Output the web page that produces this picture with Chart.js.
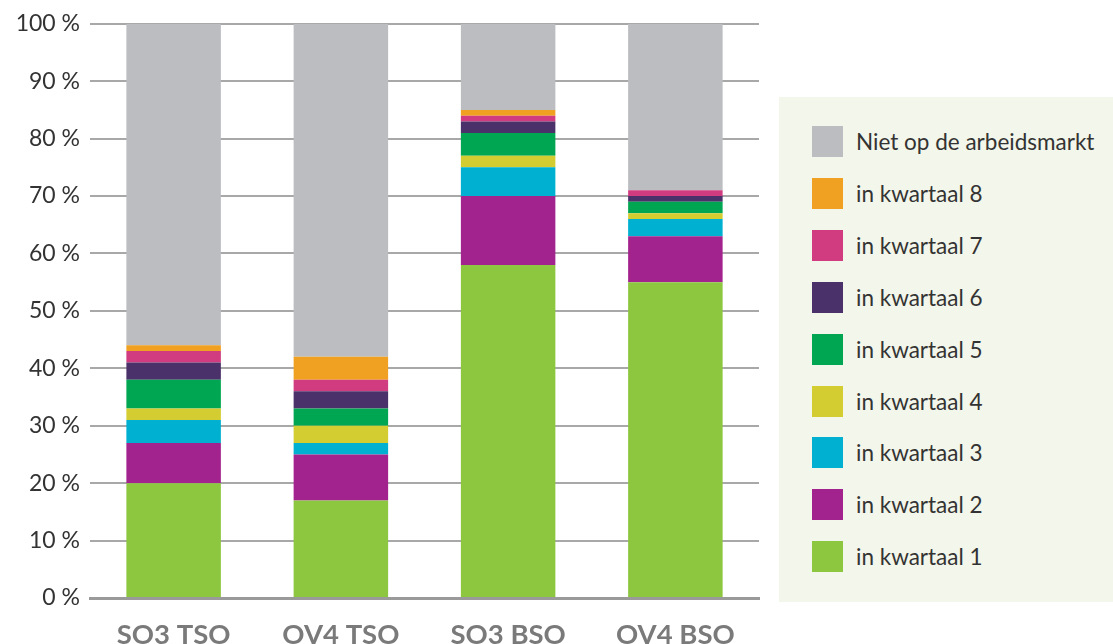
<!DOCTYPE html>
<html>
<head>
<meta charset="utf-8">
<script src="https://cdn.jsdelivr.net/npm/chart.js@4/dist/chart.umd.min.js"></script>
<style>
  html, body { margin: 0; padding: 0; background: #fff; overflow: hidden; }
  #wrap { position: relative; width: 1113px; height: 644px; }
  #legend {
    position: absolute; left: 779px; top: 97px; width: 334px; height: 505px;
    background: #f3f6ea; font-family: Lato, sans-serif; font-size: 22.5px; color: #333;
  }
  .item { position: absolute; left: 33px; height: 31px; display: flex; align-items: center; }
  .sw { width: 31px; height: 31px; margin-right: 13px; }
</style>
</head>
<body>
<div id="wrap">
  <canvas id="chart" width="1113" height="644"></canvas>
  <div id="legend"></div>
</div>
<script>
const categories = ["SO3 TSO", "OV4 TSO", "SO3 BSO", "OV4 BSO"];
const seriesNames = [
  "in kwartaal 1", "in kwartaal 2", "in kwartaal 3", "in kwartaal 4",
  "in kwartaal 5", "in kwartaal 6", "in kwartaal 7", "in kwartaal 8",
  "Niet op de arbeidsmarkt",
];
const kwartaal1 = [20, 17, 58, 55];
const kwartaal2 = [7, 8, 12, 8];
const kwartaal3 = [4, 2, 5, 3];
const kwartaal4 = [2, 3, 2, 1];
const kwartaal5 = [5, 3, 4, 2];
const kwartaal6 = [3, 3, 2, 1];
const kwartaal7 = [2, 2, 1, 1];
const kwartaal8 = [1, 4, 1, 0];
const nietOpArbeidsmarkt = [56, 58, 15, 29];
const yTicks = [0, 10, 20, 30, 40, 50, 60, 70, 80, 90, 100];

const colors = [
  "#8dc63f", "#a3238e", "#00b0d0", "#d4cd31",
  "#00a651", "#4a3169", "#d13c80", "#f0a122", "#bcbdc1",
];
const seriesData = [
  kwartaal1, kwartaal2, kwartaal3, kwartaal4,
  kwartaal5, kwartaal6, kwartaal7, kwartaal8, nietOpArbeidsmarkt,
];

const datasets = seriesNames.map((name, i) => ({
  label: name,
  data: seriesData[i],
  backgroundColor: colors[i],
  borderWidth: 0,
  categoryPercentage: 1,
  barPercentage: 0.565,
}));

const ctx = document.getElementById("chart").getContext("2d");
const chart = new Chart(ctx, {
  type: "bar",
  data: { labels: categories, datasets },
  options: {
    responsive: false,
    animation: false,
    layout: { padding: { top: 12, right: 354, left: 0, bottom: 0 } },
    plugins: { legend: { display: false }, tooltip: { enabled: false } },
    scales: {
      x: {
        stacked: true,
        grid: { display: false, drawTicks: false },
        border: { display: true, color: "#9a9a9a", width: 3 },
        ticks: {
          color: "#7a7a7a",
          padding: 21,
          font: { family: "Lato", size: 27.5, weight: "bold" },
        },
        afterFit: (s) => { s.height = 46; },
      },
      y: {
        stacked: true,
        min: 0,
        max: 100,
        afterBuildTicks: (s) => { s.ticks = yTicks.map((v) => ({ value: v })); },
        grid: {
          color: "#a8a8a8",
          lineWidth: 2,
          drawTicks: false,
        },
        border: { display: false },
        ticks: {
          color: "#333",
          padding: 10,
          font: { family: "Lato", size: 23 },
          callback: (v) => v + " %",
        },
        afterFit: (s) => { s.width = 90; },
      },
    },
  },
});

// legend, top to bottom in reverse stacking order
const legend = document.getElementById("legend");
for (let i = seriesNames.length - 1, row = 0; i >= 0; i--, row++) {
  const item = document.createElement("div");
  item.className = "item";
  item.style.top = (29 + row * 51.9) + "px";
  const sw = document.createElement("div");
  sw.className = "sw";
  sw.style.background = colors[i];
  const txt = document.createElement("span");
  txt.textContent = seriesNames[i];
  item.appendChild(sw);
  item.appendChild(txt);
  legend.appendChild(item);
}
</script>
</body>
</html>
